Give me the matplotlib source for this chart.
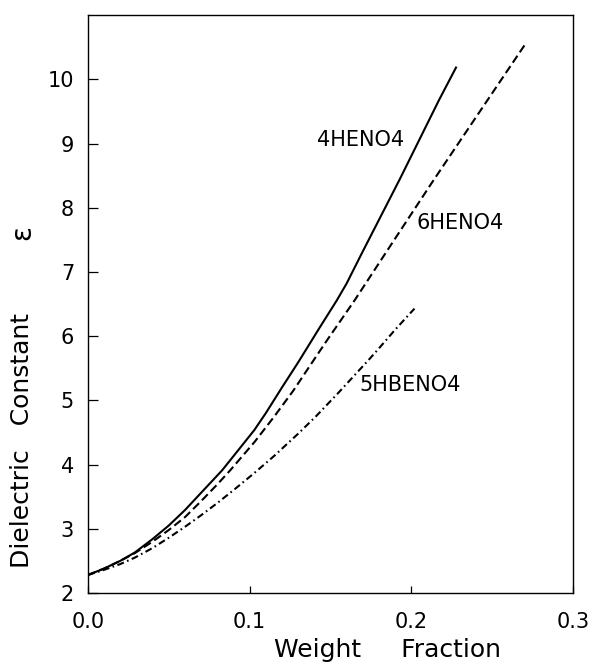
import matplotlib
matplotlib.use("Agg")
import matplotlib.pyplot as plt

plt.rcParams['font.family'] = ['DejaVu Sans']
plt.rcParams['lines.scale_dashes'] = False

# Data
x_4heno4 = [0.0, 0.010, 0.020, 0.029, 0.040, 0.050, 0.060, 0.070, 0.083, 0.090, 0.103,
            0.110, 0.120, 0.130, 0.143, 0.154, 0.160, 0.170, 0.193, 0.217, 0.228]
y_4heno4 = [2.28, 2.38, 2.50, 2.63, 2.84, 3.05, 3.29, 3.56, 3.91, 4.13, 4.54,
            4.80, 5.20, 5.59, 6.12, 6.56, 6.82, 7.32, 8.45, 9.67, 10.2]

x_6heno4 = [0.0, 0.010, 0.020, 0.029, 0.040, 0.050, 0.060, 0.070, 0.080, 0.088, 0.103,
            0.115, 0.127, 0.140, 0.148, 0.165, 0.190, 0.213, 0.240, 0.270]
y_6heno4 = [2.28, 2.38, 2.50, 2.62, 2.80, 2.98, 3.18, 3.43, 3.69, 3.91, 4.35,
            4.74, 5.15, 5.64, 5.94, 6.56, 7.52, 8.40, 9.41, 10.53]

x_5hbeno4 = [0.0, 0.010, 0.020, 0.029, 0.040, 0.050, 0.060, 0.070, 0.080, 0.090, 0.103,
             0.115, 0.130, 0.141, 0.155, 0.174, 0.180, 0.190, 0.202]
y_5hbeno4 = [2.28, 2.36, 2.45, 2.55, 2.70, 2.86, 3.03, 3.21, 3.40, 3.60, 3.87,
             4.13, 4.48, 4.75, 5.12, 5.64, 5.81, 6.10, 6.43]

series_labels = ["4HENO4", "6HENO4", "5HBENO4"]
label_pos = [(0.142, 9.05), (0.203, 7.77), (0.168, 5.24)]

x_ticks = [0.0, 0.1, 0.2, 0.3]
x_ticklabels = ["0.0", "0.1", "0.2", "0.3"]
y_ticks = [2, 3, 4, 5, 6, 7, 8, 9, 10]
y_ticklabels = ["2", "3", "4", "5", "6", "7", "8", "9", "10"]

fig = plt.figure(figsize=(5.9, 6.64), dpi=100)
ax = fig.add_axes([0.149, 0.107, 0.822, 0.870])

ax.plot(x_4heno4, y_4heno4, color='black', lw=1.5, solid_capstyle='butt',
        solid_joinstyle='round')
ax.plot(x_6heno4, y_6heno4, color='black', lw=1.5, dashes=(6, 3))
ax.plot(x_5hbeno4, y_5hbeno4, color='black', lw=1.5, dashes=(5, 2.5, 1.2, 2.5))

for lab, (lx, ly) in zip(series_labels, label_pos):
    ax.text(lx, ly, lab, fontsize=15, ha='left', va='center', color='black')

ax.set_xlim(0.0, 0.3)
ax.set_ylim(2, 11)
ax.set_xticks(x_ticks)
ax.set_xticklabels(x_ticklabels)
ax.set_yticks(y_ticks)
ax.set_yticklabels(y_ticklabels)
ax.tick_params(axis='both', direction='in', labelsize=15, width=0.9, color='black')
ax.tick_params(axis='y', length=7, pad=10)
ax.tick_params(axis='x', length=5, pad=14)
for s in ax.spines.values():
    s.set_linewidth(1.0)

fig.text(388/590, 1 - 650/664, "Weight     Fraction", fontsize=18, ha='center', va='center')
fig.text(22/590, 1 - 441/664, "Dielectric   Constant", fontsize=18, ha='center', va='center',
         rotation=90)
fig.text(22/590, 1 - 233/664, "ε", fontsize=20, ha='center', va='center', rotation=90)

fig.savefig("out.png", dpi=100)
